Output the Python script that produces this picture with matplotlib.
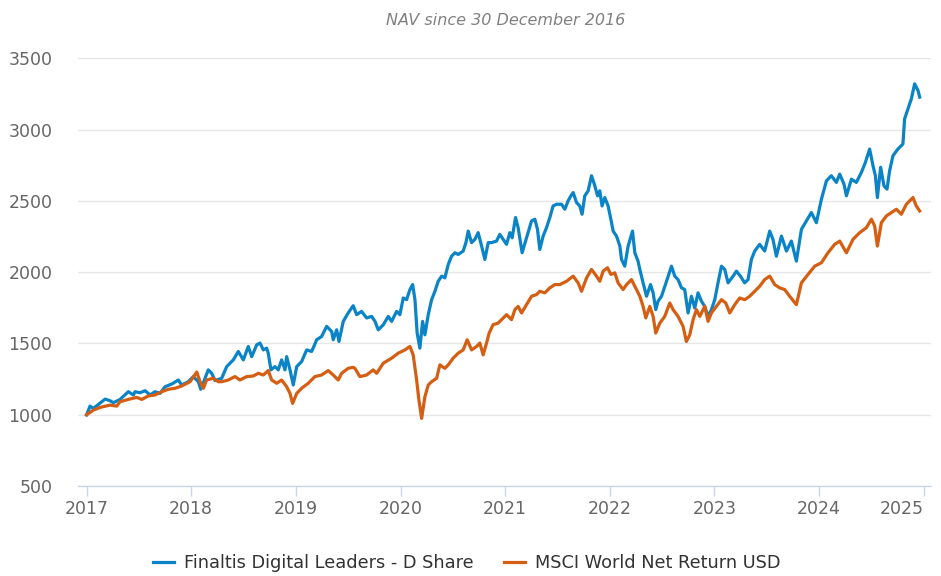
import matplotlib
matplotlib.use("Agg")
from matplotlib import pyplot as plt

# time axis in decimal years
fund_t = [2017.000, 2017.033, 2017.065, 2017.177, 2017.224, 2017.256, 2017.320, 2017.399, 2017.447,
          2017.463, 2017.511, 2017.559, 2017.607, 2017.654, 2017.702, 2017.750, 2017.814, 2017.877,
          2017.909, 2017.972, 2018.020, 2018.068, 2018.091, 2018.132, 2018.163, 2018.196, 2018.227,
          2018.291, 2018.339, 2018.402, 2018.450, 2018.498, 2018.545, 2018.578, 2018.626, 2018.657,
          2018.689, 2018.721, 2018.736, 2018.762, 2018.800, 2018.832, 2018.864, 2018.896, 2018.912,
          2018.944, 2018.975, 2019.008, 2019.055, 2019.103, 2019.151, 2019.199, 2019.246, 2019.294,
          2019.342, 2019.357, 2019.390, 2019.412, 2019.453, 2019.500, 2019.548, 2019.581, 2019.628,
          2019.676, 2019.724, 2019.756, 2019.787, 2019.835, 2019.883, 2019.915, 2019.963, 2019.994,
          2020.026, 2020.058, 2020.090, 2020.116, 2020.138, 2020.159, 2020.185, 2020.211, 2020.233,
          2020.265, 2020.297, 2020.329, 2020.360, 2020.393, 2020.424, 2020.456, 2020.488, 2020.520,
          2020.551, 2020.599, 2020.625, 2020.647, 2020.679, 2020.711, 2020.742, 2020.775, 2020.806,
          2020.838, 2020.870, 2020.918, 2020.949, 2020.981, 2021.013, 2021.045, 2021.067, 2021.099,
          2021.124, 2021.162, 2021.204, 2021.252, 2021.284, 2021.309, 2021.331, 2021.363, 2021.395,
          2021.427, 2021.458, 2021.491, 2021.539, 2021.570, 2021.602, 2021.628, 2021.650, 2021.682,
          2021.713, 2021.735, 2021.761, 2021.793, 2021.825, 2021.857, 2021.883, 2021.904, 2021.926,
          2021.952, 2021.984, 2022.010, 2022.032, 2022.064, 2022.096, 2022.112, 2022.143, 2022.175,
          2022.217, 2022.239, 2022.270, 2022.287, 2022.318, 2022.351, 2022.389, 2022.414, 2022.439,
          2022.461, 2022.494, 2022.542, 2022.589, 2022.621, 2022.652, 2022.685, 2022.716, 2022.748,
          2022.780, 2022.812, 2022.843, 2022.876, 2022.907, 2022.939, 2022.971, 2023.003, 2023.034,
          2023.067, 2023.098, 2023.130, 2023.178, 2023.210, 2023.248, 2023.289, 2023.321, 2023.353,
          2023.385, 2023.432, 2023.480, 2023.528, 2023.559, 2023.592, 2023.640, 2023.688, 2023.735,
          2023.783, 2023.831, 2023.879, 2023.926, 2023.974, 2024.022, 2024.070, 2024.117, 2024.165,
          2024.197, 2024.238, 2024.261, 2024.309, 2024.356, 2024.404, 2024.442, 2024.483, 2024.515,
          2024.538, 2024.557, 2024.588, 2024.620, 2024.649, 2024.674, 2024.706, 2024.753, 2024.801,
          2024.817, 2024.849, 2024.882, 2024.913, 2024.945, 2024.961]
fund_v = [1000, 1061, 1045, 1110, 1099, 1085, 1108, 1162, 1139,
          1162, 1155, 1169, 1139, 1162, 1150, 1197, 1216, 1244,
          1209, 1232, 1268, 1232, 1179, 1256, 1315, 1291, 1240,
          1256, 1338, 1385, 1444, 1385, 1479, 1408, 1491, 1503,
          1455, 1467, 1432, 1315, 1338, 1315, 1385, 1315, 1408,
          1315, 1209, 1338, 1373, 1455, 1444, 1526, 1549, 1620,
          1584, 1526, 1596, 1514, 1655, 1714, 1765, 1702, 1725,
          1679, 1690, 1655, 1596, 1631, 1690, 1655, 1725, 1702,
          1819, 1807, 1878, 1913, 1807, 1573, 1467, 1655, 1561,
          1702, 1807, 1866, 1936, 1972, 1960, 2054, 2112, 2136,
          2124, 2148, 2207, 2288, 2207, 2230, 2277, 2183, 2089,
          2207, 2207, 2218, 2265, 2230, 2195, 2277, 2241, 2383,
          2312, 2136, 2241, 2359, 2371, 2300, 2159, 2253, 2312,
          2383, 2464, 2476, 2476, 2441, 2500, 2535, 2558, 2488,
          2464, 2406, 2535, 2570, 2676, 2605, 2535, 2570, 2464,
          2523, 2464, 2371, 2288, 2253, 2183, 2089, 2042, 2183,
          2288, 2136, 2077, 2019, 1925, 1831, 1913, 1855, 1737,
          1796, 1831, 1936, 2042, 1972, 1948, 1890, 1878, 1714,
          1831, 1749, 1855, 1796, 1760, 1690, 1737, 1807, 1925,
          2042, 2019, 1925, 1972, 2007, 1972, 1925, 1948, 2089,
          2148, 2195, 2148, 2288, 2230, 2112, 2253, 2148, 2218,
          2077, 2300, 2359, 2418, 2347, 2511, 2640, 2676, 2629,
          2687, 2617, 2535, 2652, 2629, 2699, 2769, 2863, 2746,
          2676, 2523, 2735, 2605, 2582, 2711, 2816, 2863, 2898,
          3074, 3145, 3216, 3320, 3274, 3227]

msci_t = [2017.000, 2017.065, 2017.129, 2017.224, 2017.288, 2017.320, 2017.399, 2017.479, 2017.527,
          2017.590, 2017.654, 2017.718, 2017.781, 2017.845, 2017.909, 2017.989, 2018.053, 2018.084,
          2018.116, 2018.147, 2018.211, 2018.259, 2018.291, 2018.354, 2018.418, 2018.466, 2018.530,
          2018.593, 2018.641, 2018.689, 2018.736, 2018.769, 2018.817, 2018.864, 2018.912, 2018.944,
          2018.969, 2019.008, 2019.055, 2019.118, 2019.182, 2019.246, 2019.309, 2019.357, 2019.405,
          2019.437, 2019.500, 2019.548, 2019.564, 2019.612, 2019.676, 2019.739, 2019.772, 2019.835,
          2019.915, 2019.978, 2020.042, 2020.090, 2020.121, 2020.154, 2020.176, 2020.202, 2020.233,
          2020.265, 2020.297, 2020.345, 2020.376, 2020.424, 2020.456, 2020.503, 2020.551, 2020.599,
          2020.637, 2020.679, 2020.727, 2020.758, 2020.790, 2020.822, 2020.847, 2020.885, 2020.933,
          2020.981, 2021.013, 2021.061, 2021.093, 2021.124, 2021.157, 2021.204, 2021.252, 2021.300,
          2021.331, 2021.379, 2021.427, 2021.475, 2021.522, 2021.586, 2021.650, 2021.697, 2021.730,
          2021.778, 2021.825, 2021.873, 2021.904, 2021.936, 2021.978, 2022.010, 2022.048, 2022.079,
          2022.127, 2022.160, 2022.207, 2022.239, 2022.287, 2022.318, 2022.344, 2022.382, 2022.414,
          2022.439, 2022.478, 2022.525, 2022.573, 2022.605, 2022.652, 2022.700, 2022.732, 2022.764,
          2022.796, 2022.828, 2022.860, 2022.907, 2022.939, 2022.971, 2023.019, 2023.067, 2023.108,
          2023.146, 2023.194, 2023.241, 2023.289, 2023.337, 2023.385, 2023.432, 2023.480, 2023.528,
          2023.576, 2023.623, 2023.671, 2023.719, 2023.783, 2023.831, 2023.894, 2023.958, 2024.022,
          2024.085, 2024.149, 2024.197, 2024.261, 2024.324, 2024.388, 2024.452, 2024.500, 2024.531,
          2024.557, 2024.595, 2024.643, 2024.691, 2024.739, 2024.786, 2024.834, 2024.897, 2024.929,
          2024.961]
msci_v = [1000, 1033, 1052, 1068, 1061, 1092, 1108, 1122, 1108,
          1132, 1139, 1162, 1179, 1186, 1202, 1232, 1300, 1232,
          1186, 1244, 1256, 1232, 1232, 1244, 1268, 1244, 1268,
          1272, 1291, 1279, 1310, 1244, 1221, 1244, 1197, 1150,
          1080, 1150, 1186, 1221, 1268, 1279, 1310, 1279, 1244,
          1291, 1326, 1333, 1326, 1268, 1279, 1315, 1291, 1362,
          1397, 1432, 1455, 1479, 1420, 1244, 1103, 975, 1127,
          1209, 1232, 1256, 1350, 1326, 1350, 1397, 1432, 1455,
          1526, 1455, 1479, 1503, 1420, 1503, 1573, 1632, 1643,
          1679, 1702, 1667, 1737, 1760, 1714, 1772, 1831, 1843,
          1866, 1855, 1890, 1913, 1913, 1936, 1972, 1925, 1866,
          1960, 2019, 1972, 1936, 2007, 2031, 1984, 1995, 1925,
          1878, 1913, 1948, 1901, 1831, 1760, 1679, 1760, 1690,
          1573, 1643, 1690, 1784, 1737, 1690, 1620, 1514, 1561,
          1667, 1737, 1690, 1760, 1655, 1714, 1760, 1807, 1784,
          1714, 1772, 1819, 1807, 1831, 1866, 1901, 1948, 1972,
          1913, 1890, 1878, 1831, 1772, 1925, 1984, 2042, 2066,
          2136, 2195, 2218, 2136, 2230, 2277, 2312, 2371, 2324,
          2183, 2347, 2394, 2418, 2441, 2406, 2476, 2523, 2464,
          2429]

years = [2017, 2018, 2019, 2020, 2021, 2022, 2023, 2024, 2025]
y_ticks = [500, 1000, 1500, 2000, 2500, 3000, 3500]
fund_name = "Finaltis Digital Leaders - D Share"
msci_name = "MSCI World Net Return USD"

blue = "#0a84c6"
orange = "#d55e12"

fig = plt.figure(figsize=(9.41, 5.76), dpi=100)
ax = fig.add_axes([0.083, 0.156, 0.906, 0.743])

l1, = ax.plot(fund_t, fund_v, color=blue, lw=2.3, solid_joinstyle="round", zorder=3)
l2, = ax.plot(msci_t, msci_v, color=orange, lw=2.3, solid_joinstyle="round", zorder=3)

ax.set_ylim(500, 3500)
ax.set_xlim(2016.919, 2025.066)
ax.set_yticks(y_ticks)
ax.set_xticks(years)
ax.set_xticklabels([str(y) for y in years])
ax.grid(axis="y", color="#e6e6e6", lw=1)
ax.set_axisbelow(True)

for s in ["top", "right", "left"]:
    ax.spines[s].set_visible(False)
ax.spines["bottom"].set_color("#ccd6eb")
ax.spines["bottom"].set_linewidth(1)

ax.tick_params(axis="y", length=0, pad=18.5, labelsize=12.5, labelcolor="#666666")
ax.tick_params(axis="x", length=7, width=1, color="#ccd6eb", pad=3,
               labelsize=12.5, labelcolor="#666666")
ax.get_xticklabels()[-1].set_horizontalalignment("right")

fig.text(0.537, 0.965, "NAV since 30 December 2016", ha="center", va="center",
         fontsize=11.5, style="italic", color="#808080")

fig.legend([l1, l2], [fund_name, msci_name], loc="center", bbox_to_anchor=(0.496, 0.022),
           ncol=2, frameon=False, fontsize=12.8, handlelength=1.2, handletextpad=0.55,
           columnspacing=1.7, labelcolor="#333333")

fig.savefig("out.png", dpi=100)
